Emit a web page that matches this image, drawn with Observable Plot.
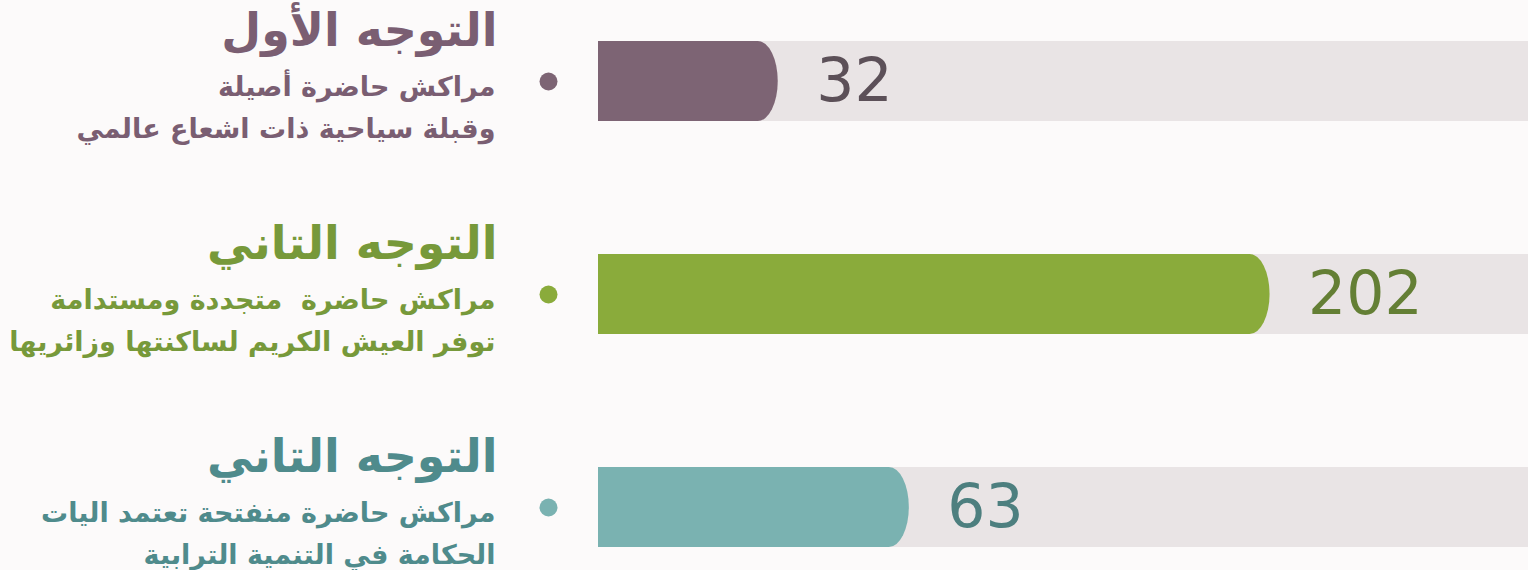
<!DOCTYPE html>
<html><head><meta charset="utf-8">
<script src="https://cdn.jsdelivr.net/npm/d3@7"></script>
<script src="https://cdn.jsdelivr.net/npm/@observablehq/plot@0.6"></script>
<style>
html,body{margin:0;padding:0;background:#fcfafa;}
#chart{width:1528px;height:570px;overflow:hidden;}
</style></head><body><div id="chart"></div>
<script>
// ---- data ----
const rows = ["r1", "r2", "r3"];
const values = [32, 202, 63];
const titles = ["التوجه الأول", "التوجه التاني", "التوجه التاني"];
const subtitles1 = ["مراكش حاضرة أصيلة", "مراكش حاضرة  متجددة ومستدامة", "مراكش حاضرة منفتحة تعتمد اليات"];
const subtitles2 = ["وقبلة سياحية ذات اشعاع عالمي", "توفر العيش الكريم لساكنتها وزائريها", "الحكامة في التنمية الترابية"];
const barColors = ["#7d6474", "#8aab3b", "#7ab2b1"];
const textColors = ["#7a5e72", "#77993a", "#4f8b8c"];
const valueColors = ["#5c5058", "#647f35", "#4d7f7f"];
const xDomain = [6.4, 350];

const data = rows.map((r, i) => ({
  row: r, value: values[i], title: titles[i], sub1: subtitles1[i], sub2: subtitles2[i],
  bar: barColors[i], txt: textColors[i], val: valueColors[i]
}));

const arabic = "DejaVu Sans, sans-serif";

const chart = Plot.plot({
  width: 1528,
  height: 570,
  marginLeft: 598,
  marginRight: 0,
  marginTop: 0,
  marginBottom: 0,
  style: {background: "transparent", overflow: "visible"},
  x: {type: "sqrt", domain: xDomain, axis: null},
  y: {domain: rows, range: [40, 548], paddingInner: 0.626, paddingOuter: 0, axis: null},
  marks: [
    // track
    Plot.barX(data, {y: "row", x1: 0, x2: xDomain[1], fill: "#e9e4e5", clip: true}),
    // bars
    Plot.barX(data, {y: "row", x1: 0, x2: "value", fill: d => d.bar, rx: 20, ry: 40, clip: true}),
    // value labels
    Plot.text(data, {y: "row", x: "value", text: d => String(d.value), fill: d => d.val,
      textAnchor: "start", dx: 38, fontSize: 60, fontFamily: "DejaVu Sans, sans-serif"}),
    // dots
    Plot.dot(data, {y: "row", frameAnchor: "left", dx: -50, r: 9, fill: d => d.bar, stroke: null}),
    // titles
    Plot.text(data, {y: "row", frameAnchor: "left", dx: -101, dy: -50, text: "title", fill: d => d.txt,
      textAnchor: "end", lineAnchor: "middle", fontSize: 46, fontWeight: "bold", fontFamily: arabic}),
    // subtitles
    Plot.text(data, {y: "row", frameAnchor: "left", dx: -103, dy: 6, text: "sub1", fill: d => d.txt,
      textAnchor: "end", lineAnchor: "middle", fontSize: 27, fontWeight: "bold", fontFamily: arabic}),
    Plot.text(data, {y: "row", frameAnchor: "left", dx: -103, dy: 48, text: "sub2", fill: d => d.txt,
      textAnchor: "end", lineAnchor: "middle", fontSize: 27, fontWeight: "bold", fontFamily: arabic})
  ]
});
document.getElementById("chart").appendChild(chart);
</script>
</body></html>
